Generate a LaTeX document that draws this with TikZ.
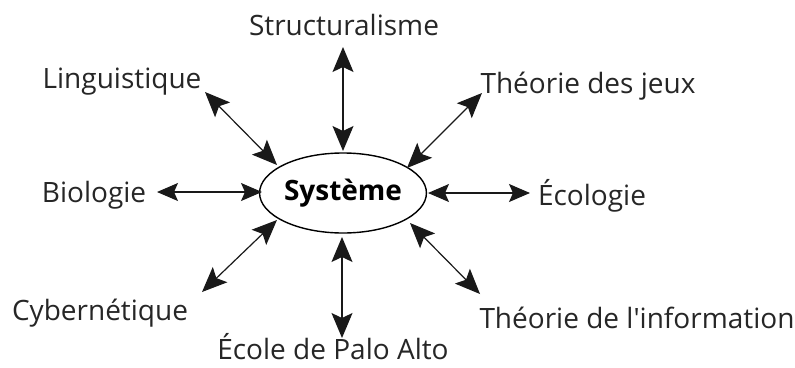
\documentclass[tikz,border=0pt]{standalone}
\usepackage{fontspec}
\setmainfont{Open Sans}
\usetikzlibrary{arrows.meta,shapes.geometric}
\begin{document}
\begin{tikzpicture}[x=1pt,y=1pt,
  lbl/.style={inner sep=0pt, anchor=base, font=\fontsize{28}{32}\selectfont, text=black!85},
  bigtip/.tip={Stealth[length=25pt,width=21pt,inset=5pt]},
  smalltip/.tip={Stealth[length=21pt,width=18pt,inset=4pt]},
  link/.style={line width=1.2pt, black!90, bigtip-bigtip},
  hlink/.style={line width=1.2pt, black!90, smalltip-smalltip},
  core/.style={draw, ellipse, line width=1.4pt, minimum width=164pt, minimum height=80pt, inner sep=0pt,
    font=\fontsize{28}{32}\selectfont\bfseries}]
\useasboundingbox (0,0) rectangle (795,-367);

% central concept
\node[core] (sys) at (343,-193) {Système};

% surrounding disciplines (placed on their baselines)
\node[lbl] (struct) at (344,-35)  {Structuralisme};
\node[lbl] (ling)   at (122,-88)  {Linguistique};
\node[lbl] (jeux)   at (588,-93)  {Théorie des jeux};
\node[lbl] (bio)    at (94,-202)  {Biologie};
\node[lbl] (eco)    at (592,-205) {Écologie};
\node[lbl] (cyb)    at (100,-320) {Cybernétique};
\node[lbl] (palo)   at (333,-359) {École de Palo Alto};
\node[lbl] (info)   at (637,-328) {Théorie de l\textquotesingle information};

% arrow ends
\coordinate (a1) at (343,-47);   \coordinate (b1) at (343,-151);
\coordinate (a2) at (205,-92);   \coordinate (b2) at (277,-165);
\coordinate (a3) at (482,-93);   \coordinate (b3) at (407,-168);
\coordinate (a4) at (157,-192);  \coordinate (b4) at (262,-192);
\coordinate (a5) at (530,-193);  \coordinate (b5) at (428,-193);
\coordinate (a6) at (202,-292);  \coordinate (b6) at (277,-220);
\coordinate (a7) at (342,-338);  \coordinate (b7) at (342,-237);
\coordinate (a8) at (480,-294);  \coordinate (b8) at (410,-223);

\foreach \i in {1,2,3,6,7,8} \draw[link] (a\i) -- (b\i);
\foreach \i in {4,5} \draw[hlink] (a\i) -- (b\i);
\end{tikzpicture}
\end{document}
